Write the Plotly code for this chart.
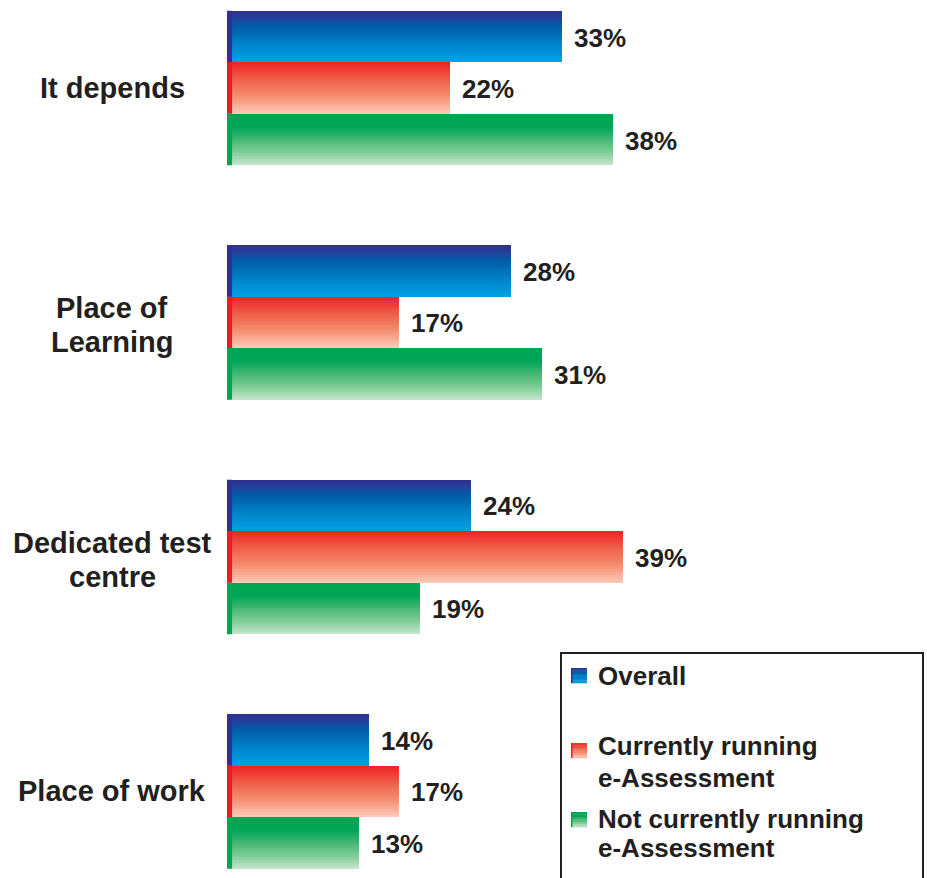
import plotly.graph_objects as go

# Survey data: preferred location for taking an e-Assessment (%)
categories = ["It depends", "Place of<br>Learning", "Dedicated test<br>centre", "Place of work"]
series_names = ["Overall", "Currently running<br>e-Assessment", "Not currently running<br>e-Assessment"]
overall = [33, 28, 24, 14]
currently_running = [22, 17, 39, 17]
not_running = [38, 31, 19, 13]
series_values = [overall, currently_running, not_running]

# Vertical gradient stops (top -> bottom) for each series
gradients = [
    [(0.0, (46, 49, 146)), (0.12, (40, 62, 155)), (0.3, (0, 92, 168)), (0.65, (0, 130, 200)), (1.0, (0, 162, 227))],
    [(0.0, (237, 34, 36)), (0.3, (239, 90, 70)), (0.65, (244, 140, 110)), (1.0, (253, 203, 186))],
    [(0.0, (0, 166, 81)), (0.25, (0, 166, 88)), (0.5, (70, 183, 118)), (0.75, (128, 204, 150)), (1.0, (198, 230, 206))],
]
edge_colors = ["#2e3192", "#ed1c24", "#00a651"]
TEXT = "#231f20"
FONT = "Liberation Sans, Arial, Helvetica, sans-serif"


def lerp_color(stops, t):
    for (t0, c0), (t1, c1) in zip(stops[:-1], stops[1:]):
        if t <= t1:
            f = (t - t0) / (t1 - t0) if t1 > t0 else 0
            c = [round(a + (b - a) * f) for a, b in zip(c0, c1)]
            return f"rgb({c[0]},{c[1]},{c[2]})"
    c = stops[-1][1]
    return f"rgb({c[0]},{c[1]},{c[2]})"


positions = list(range(len(categories)))
bw = 0.2196          # thickness of one bar in category units
n_slices = 26        # horizontal strips used to build each gradient bar

fig = go.Figure()
for j, (vals, stops) in enumerate(zip(series_values, gradients)):
    top = (j - 1.5) * bw
    sw = bw / n_slices
    for k in range(n_slices):
        t = (k + 0.5) / n_slices
        fig.add_trace(go.Bar(
            y=positions, x=vals, base=0, orientation="h",
            offset=top + k * sw, width=sw * 1.12,
            marker=dict(color=lerp_color(stops, t), line=dict(width=0)),
            hoverinfo="skip", showlegend=False,
        ))

# Dark edge on the left side of each bar
for j in range(3):
    for p in positions:
        fig.add_shape(type="rect", xref="x", yref="y",
                      x0=0, x1=0.5, y0=p + (j - 1.5) * bw, y1=p + (j - 0.5) * bw,
                      fillcolor=edge_colors[j], line=dict(width=0), layer="above")

# Value labels at the end of each bar
for j, vals in enumerate(series_values):
    for p, v in zip(positions, vals):
        fig.add_annotation(x=v, y=p + (j - 1) * bw, xref="x", yref="y",
                           text=f"<b>{v}%</b>", showarrow=False,
                           xanchor="left", yanchor="middle", xshift=10, yshift=-1,
                           font=dict(family=FONT, size=26, color=TEXT))

# Category labels, centred in the left margin, one annotation per line
L, W, H = 227, 695, 878
line_gap = 34
for p, c in zip(positions, categories):
    parts = c.split("<br>")
    for i, part in enumerate(parts):
        shift = -(i - (len(parts) - 1) / 2) * line_gap
        if len(parts) > 1:
            shift -= 3
        fig.add_annotation(x=(112 - L) / W, xref="paper", y=p, yref="y",
                           text=f"<b>{part}</b>", showarrow=False, align="center",
                           xanchor="center", yanchor="middle", yshift=shift,
                           font=dict(family=FONT, size=29, color=TEXT))

# Legend box drawn by hand so the swatches can carry gradients
def px_x(px):
    return (px - L) / W


def px_y(py):
    return 1 - py / H


fig.add_shape(type="rect", xref="paper", yref="paper",
              x0=px_x(561), x1=px_x(923), y0=px_y(653), y1=px_y(900),
              line=dict(color=TEXT, width=2), fillcolor="white", layer="above")

swatch_tops = [668, 743, 812]
legend_lines = [[(676, "Overall")],
                [(746, "Currently running"), (778, "e-Assessment")],
                [(819, "Not currently running"), (848, "e-Assessment")]]
for j, (sy, lines) in enumerate(zip(swatch_tops, legend_lines)):
    n = 6
    for k in range(n):
        t = (k + 0.5) / n
        fig.add_shape(type="rect", xref="paper", yref="paper",
                      x0=px_x(571), x1=px_x(587),
                      y0=px_y(sy + 15 * (k + 1) / n + 0.3), y1=px_y(sy + 15 * k / n),
                      fillcolor=lerp_color(gradients[j], t), line=dict(width=0), layer="above")
    fig.add_shape(type="rect", xref="paper", yref="paper",
                  x0=px_x(571), x1=px_x(572.5), y0=px_y(sy + 15), y1=px_y(sy),
                  fillcolor=edge_colors[j], line=dict(width=0), layer="above")
    for ly, txt in lines:
        fig.add_annotation(x=px_x(596), y=px_y(ly), xref="paper", yref="paper",
                           text=f"<b>{txt}</b>", showarrow=False,
                           xanchor="left", yanchor="middle",
                           font=dict(family=FONT, size=26, color=TEXT))

fig.update_layout(
    width=927, height=878,
    margin=dict(l=L, r=927 - L - W, t=0, b=0),
    paper_bgcolor="white", plot_bgcolor="white",
    barmode="overlay", bargap=0,
    showlegend=False,
    xaxis=dict(range=[0, 68.5], visible=False, fixedrange=True),
    yaxis=dict(range=[3.369, -0.3753], visible=False, fixedrange=True),
)

fig.write_html("out.html")
